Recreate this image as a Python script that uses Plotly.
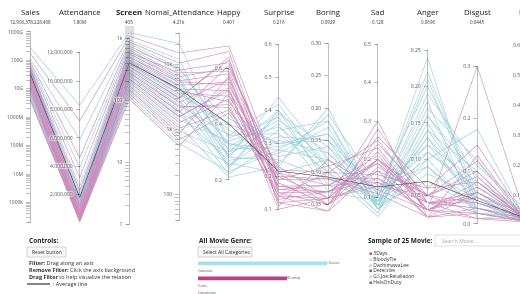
import numpy as np
import plotly.graph_objects as go

W, H = 540, 294

# ---------------- data ----------------
dim_names = ["Sales", "Attendance", "Screen", "Nomal_Attendance", "Happy", "Surprise",
             "Boring", "Sad", "Anger", "Disgust", "Fear"]
avg_text = ["12,906,378,228,408", "1.80M", "405", "4.21k", "0.401", "0.216",
            "0.0929", "0.128", "0.0696", "0.0445", "0.0213"]

genre = ["action", "comedy"] * 24
sales = [2.9e11, 1.8e11, 1.2e11, 9.5e10, 8.0e10, 7.0e10, 6.2e10, 5.5e10, 5.0e10, 4.6e10, 4.2e10, 3.9e10,
         3.6e10, 3.3e10, 3.1e10, 2.9e10, 2.7e10, 2.5e10, 2.3e10, 2.1e10, 1.9e10, 1.8e10, 1.6e10, 1.5e10,
         1.4e10, 1.3e10, 1.2e10, 1.1e10, 1.0e10, 9.0e9, 8.0e9, 7.0e9, 6.0e9, 5.0e9, 4.5e9, 4.0e9,
         6.5e10, 5.2e10, 4.4e10, 3.8e10, 3.4e10, 2.8e10, 2.4e10, 2.0e10, 1.7e10, 1.5e10, 1.3e10, 1.1e10]
attendance = [8.3e6, 7.2e6, 5.9e6, 4.6e6, 3.9e6, 3.2e6, 2.6e6, 2.3e6, 2.1e6, 1.9e6, 1.7e6, 1.5e6,
              1.4e6, 1.3e6, 1.2e6, 1.1e6, 1.0e6, 9.2e5, 8.5e5, 7.8e5, 7.1e5, 6.5e5, 5.8e5, 5.2e5,
              4.7e5, 4.2e5, 3.8e5, 3.4e5, 3.0e5, 2.7e5, 2.4e5, 2.1e5, 1.8e5, 1.5e5, 1.2e5, 1.0e5,
              1.6e6, 1.2e6, 9.0e5, 8.0e5, 6.2e5, 5.5e5, 4.5e5, 4.0e5, 3.3e5, 2.8e5, 2.2e5, 1.8e5]
screen = [1250, 1100, 950, 880, 820, 760, 700, 650, 620, 580, 540, 510, 480, 450, 420, 400, 380, 360,
          340, 320, 300, 285, 270, 255, 240, 225, 210, 198, 185, 172, 160, 150, 140, 128, 115, 105,
          700, 600, 560, 500, 460, 430, 390, 350, 310, 280, 250, 220]
nomal_att = [21000, 15000, 12000, 10500, 9000, 8200, 7000, 6500, 6000, 5600, 5200, 4800, 4500, 4200,
             3900, 3600, 3300, 3000, 2800, 2600, 2400, 2200, 2000, 1850, 1700, 1550, 1400, 1280, 1150,
             1050, 950, 860, 780, 700, 620, 560,
             8800, 7400, 6200, 5400, 4700, 4000, 3500, 3100, 2700, 2300, 1900, 1600]
happy = [0.30, 0.68, 0.28, 0.66, 0.35, 0.62, 0.42, 0.60, 0.25, 0.58, 0.33, 0.55, 0.24, 0.52, 0.38, 0.50,
         0.29, 0.64, 0.31, 0.56, 0.36, 0.47, 0.22, 0.61, 0.27, 0.53, 0.34, 0.49, 0.21, 0.45, 0.30, 0.57,
         0.26, 0.44, 0.23, 0.51,
         0.36, 0.59, 0.32, 0.54, 0.28, 0.48, 0.40, 0.63, 0.25, 0.46, 0.33, 0.52]
surprise = [0.40, 0.20, 0.44, 0.15, 0.38, 0.18, 0.30, 0.22, 0.34, 0.12, 0.26, 0.16, 0.40, 0.14, 0.24, 0.20,
            0.36, 0.11, 0.29, 0.18, 0.42, 0.13, 0.31, 0.21, 0.27, 0.10, 0.35, 0.15, 0.23, 0.19, 0.32, 0.12,
            0.21, 0.17, 0.28, 0.14,
            0.33, 0.17, 0.37, 0.19, 0.25, 0.23, 0.30, 0.16, 0.39, 0.14, 0.28, 0.21]
boring = [0.08, 0.06, 0.12, 0.07, 0.09, 0.05, 0.15, 0.10, 0.18, 0.06, 0.14, 0.08, 0.11, 0.04, 0.19, 0.09,
          0.07, 0.12, 0.16, 0.05, 0.10, 0.07, 0.13, 0.08, 0.17, 0.06, 0.11, 0.05, 0.20, 0.09, 0.15, 0.04,
          0.12, 0.07, 0.18, 0.06,
          0.10, 0.08, 0.13, 0.11, 0.09, 0.06, 0.16, 0.07, 0.14, 0.10, 0.12, 0.05]
sad = [0.10, 0.14, 0.08, 0.20, 0.12, 0.24, 0.07, 0.16, 0.09, 0.30, 0.11, 0.21, 0.06, 0.18, 0.13, 0.15,
       0.09, 0.12, 0.08, 0.26, 0.05, 0.19, 0.10, 0.14, 0.07, 0.22, 0.06, 0.17, 0.08, 0.11, 0.12, 0.28,
       0.09, 0.15, 0.07, 0.20,
       0.09, 0.19, 0.08, 0.23, 0.10, 0.13, 0.11, 0.17, 0.07, 0.25, 0.09, 0.20]
anger = [0.22, 0.03, 0.17, 0.04, 0.20, 0.05, 0.14, 0.06, 0.12, 0.02, 0.10, 0.03, 0.16, 0.05, 0.09, 0.04,
         0.19, 0.03, 0.13, 0.06, 0.11, 0.02, 0.24, 0.04, 0.08, 0.03, 0.15, 0.05, 0.07, 0.02, 0.12, 0.04,
         0.18, 0.03, 0.10, 0.05,
         0.13, 0.04, 0.16, 0.03, 0.21, 0.05, 0.11, 0.02, 0.14, 0.04, 0.09, 0.03]
disgust = [0.05, 0.30, 0.12, 0.03, 0.08, 0.02, 0.10, 0.15, 0.04, 0.06, 0.18, 0.01, 0.07, 0.09, 0.02, 0.04,
           0.11, 0.05, 0.03, 0.08, 0.06, 0.13, 0.02, 0.01, 0.05, 0.07, 0.04, 0.10, 0.03, 0.02, 0.08, 0.03,
           0.01, 0.06, 0.02, 0.04,
           0.06, 0.05, 0.09, 0.02, 0.04, 0.12, 0.07, 0.03, 0.05, 0.06, 0.03, 0.08]
fear = [0.02, 0.01, 0.03, 0.01, 0.04, 0.01, 0.02, 0.015, 0.03, 0.02, 0.01, 0.02, 0.04, 0.01, 0.03, 0.02,
        0.05, 0.01, 0.02, 0.015, 0.03, 0.01, 0.02, 0.01, 0.04, 0.02, 0.01, 0.015, 0.03, 0.01, 0.02, 0.02,
        0.04, 0.01, 0.03, 0.02,
        0.03, 0.01, 0.02, 0.015, 0.03, 0.01, 0.02, 0.01, 0.04, 0.02, 0.01, 0.02]

# average line
avg_values = [3.5e10, 1.80e6, 405, 4210, 0.401, 0.216, 0.0929, 0.128, 0.0696, 0.0445, 0.0213]

# axis ticks
sales_ticks = [1e6, 1e7, 1e8, 1e9, 1e10, 1e11, 1e12]
sales_ticktext = ["1000k", "10M", "100M", "1000M", "10G", "100G", "1000G"]
att_ticks = [2e6, 4e6, 6e6, 8e6, 10e6, 12e6]
att_ticktext = ["2,000,000", "4,000,000", "6,000,000", "8,000,000", "10,000,000", "12,000,000"]
screen_ticks = [1, 10, 100, 1000]
screen_ticktext = ["1", "10", "100", "1k"]
nomal_ticks = [100, 1000, 10000]
nomal_ticktext = ["100", "1k", "10k"]
happy_ticks = [0.2, 0.4, 0.6]
surprise_ticks = [0.1, 0.2, 0.3, 0.4, 0.5, 0.6]
boring_ticks = [0.05, 0.10, 0.15, 0.20, 0.25, 0.30]
sad_ticks = [0.1, 0.2, 0.3, 0.4, 0.5]
anger_ticks = [0.05, 0.10, 0.15, 0.20, 0.25]
disgust_ticks = [0.0, 0.1, 0.2, 0.3]
fear_ticks = [0.1, 0.2, 0.3, 0.4, 0.5, 0.6]

genre_names = ["action", "adventure", "comedy", "crime", "documentary"]
genre_counts = [116, 0, 80, 0, 0]

sample_movies = ["3Days", "BloodyTie", "DachimawaLee", "Detective", "G.I.Joe:Retaliation", "HeIsOnDuty"]
sample_genres = ["comedy", "action", "action", "comedy", "action", "comedy"]

# ---------------- styling ----------------
CYAN = "rgb(148,213,228)"
PINK = "rgb(210,134,186)"
AVG = "rgb(50,50,66)"
BAR_CYAN = "rgb(166,224,232)"
BAR_PINK = "rgb(192,62,132)"
FONT = "Open Sans"


def px_x(x):
    return x / W


def px_y(y):
    return 1 - y / H


def log_ticks(major, labels, lo, hi):
    """major (log10) ticks with labels plus unlabeled minor ticks, sorted together.
    Minor labels are distinct invisible strings (parcoords maps ticks by their text)."""
    pairs = [(float(np.log10(v)), t) for v, t in zip(major, labels)]
    k = 1
    for d in range(int(np.floor(lo)), int(np.ceil(hi)) + 1):
        for m in range(2, 10):
            v = float(np.log10(m) + d)
            if lo <= v <= hi:
                pairs.append((v, "\u200b" * k))
                k += 1
    pairs.sort()
    return [p[0] for p in pairs], [p[1] for p in pairs]


code = {"action": 0, "comedy": 1}
line_color = [code[g] for g in genre] + [2]


def col(vals, i):
    return list(vals) + [avg_values[i]]


s_rng = [5.17, 12.07]
sc_rng = [-0.03, 3.14]
na_rng = [1.52, 4.53]
s_tv, s_tt = log_ticks(sales_ticks, sales_ticktext, *s_rng)
sc_tv, sc_tt = log_ticks(screen_ticks, screen_ticktext, *sc_rng)
na_tv, na_tt = log_ticks(nomal_ticks, nomal_ticktext, *na_rng)

dims = [
    dict(label="", values=np.log10(col(sales, 0)), range=s_rng, tickvals=s_tv, ticktext=s_tt),
    dict(label="", values=col(attendance, 1), range=[-0.2e6, 13.6e6],
         tickvals=att_ticks, ticktext=att_ticktext),
    dict(label="", values=np.log10(col(screen, 2)), range=sc_rng, tickvals=sc_tv, ticktext=sc_tt),
    dict(label="", values=np.log10(col(nomal_att, 3)), range=na_rng, tickvals=na_tv, ticktext=na_tt),
    dict(label="", values=col(happy, 4), range=[0.035, 0.737],
         tickvals=happy_ticks, ticktext=[f"{v:.1f}" for v in happy_ticks]),
    dict(label="", values=col(surprise, 5), range=[0.049, 0.645],
         tickvals=surprise_ticks, ticktext=[f"{v:.1f}" for v in surprise_ticks]),
    dict(label="", values=col(boring, 6), range=[0.017, 0.321],
         tickvals=boring_ticks, ticktext=[f"{v:.2f}" for v in boring_ticks]),
    dict(label="", values=col(sad, 7), range=[0.026, 0.538],
         tickvals=sad_ticks, ticktext=[f"{v:.1f}" for v in sad_ticks]),
    dict(label="", values=col(anger, 8), range=[0.008, 0.278],
         tickvals=anger_ticks, ticktext=[f"{v:.2f}" for v in anger_ticks]),
    dict(label="", values=col(disgust, 9), range=[-0.004, 0.369],
         tickvals=disgust_ticks, ticktext=[f"{v:.1f}" for v in disgust_ticks]),
    dict(label="", values=col(fear, 10), range=[-0.003, 0.65],
         tickvals=fear_ticks, ticktext=[f"{v:.1f}" for v in fear_ticks]),
]

AX0, AX1 = 30, 527
fig = go.Figure()
fig.add_trace(go.Parcoords(
    domain=dict(x=[px_x(AX0), px_x(AX1)], y=[px_y(228), px_y(28)]),
    dimensions=dims,
    line=dict(color=line_color, cmin=0, cmax=2,
              colorscale=[[0, CYAN], [0.33, CYAN], [0.34, PINK], [0.66, PINK], [0.67, AVG], [1, AVG]]),
    tickfont=dict(size=5, family=FONT, color="#555"),
    rangefont=dict(size=1, color="rgba(0,0,0,0)"),
    labelfont=dict(size=1, color="rgba(0,0,0,0)"),
))

# genre bars
fig.add_trace(go.Bar(
    x=genre_counts, y=genre_names, orientation="h",
    marker=dict(color=[BAR_CYAN, BAR_CYAN, BAR_PINK, BAR_PINK, BAR_PINK], line=dict(width=0)),
    width=0.5,
    texttemplate="%{x} %{y}", textposition="outside", cliponaxis=False,
    textfont=dict(size=5.5, family=FONT, color="#444"),
    xaxis="x", yaxis="y", hoverinfo="skip", showlegend=False,
))

annotations = []
n = len(dim_names)
for i, (nm, av) in enumerate(zip(dim_names, avg_text)):
    ax = AX0 + i * (AX1 - AX0) / (n - 1)
    annotations.append(dict(xref="paper", yref="paper", x=px_x(ax), y=px_y(12),
                            text=(f"<b>{nm}</b>" if nm == "Screen" else nm),
                            showarrow=False, font=dict(size=7.8, family=FONT, color="#222"),
                            xanchor="center", yanchor="middle"))
    annotations.append(dict(xref="paper", yref="paper", x=px_x(ax), y=px_y(21.5), text=av,
                            showarrow=False, font=dict(size=4.5, family=FONT, color="#333"),
                            xanchor="center", yanchor="middle"))


def txt(x, y, t, size=5.5, color="#333", anchor="left"):
    annotations.append(dict(xref="paper", yref="paper", x=px_x(x), y=px_y(y), text=t,
                            showarrow=False, xanchor=anchor, yanchor="middle",
                            font=dict(size=size, family=FONT, color=color)))


txt(27, 240, "<b>Controls:</b>", size=6.5, color="#222")
txt(30, 252, "Reset button", size=5)
txt(27, 263, "<b>Filter:</b> Drag along an axis")
txt(27, 270, "<b>Remove Filter:</b> Click the axis background")
txt(27, 277, "<b>Drag Filter</b> to help visualize the relation")
txt(51, 284, ": Average line")

txt(197, 240, "<b>All Movie Genre:</b>", size=6.5, color="#222")
txt(201, 252, "Select All Categories", size=5)

txt(366, 240, "<b>Sample of 25 Movie:</b>", size=6.5, color="#222")
txt(440, 240.5, "Search Movie...", size=5, color="#aaa")
gcol = {"action": BAR_CYAN, "comedy": BAR_PINK}
for k, (mv, g) in enumerate(zip(sample_movies, sample_genres)):
    yy = 253 + k * 5.8
    txt(367, yy, f"<span style='color:{gcol[g]}'>■</span> {mv}", size=5)

shapes = [
    # brushed-filter band on the Screen axis
    dict(type="rect", xref="paper", yref="paper", x0=px_x(125), x1=px_x(134), y0=px_y(100), y1=px_y(26),
         line=dict(width=0), fillcolor="rgba(140,140,140,0.28)", layer="above"),
    dict(type="rect", xref="paper", yref="paper", x0=px_x(27), x1=px_x(66), y0=px_y(257), y1=px_y(247),
         line=dict(color="#bbb", width=0.6), fillcolor="#f7f7f7", layer="below"),
    dict(type="rect", xref="paper", yref="paper", x0=px_x(198), x1=px_x(252), y0=px_y(257), y1=px_y(247),
         line=dict(color="#bbb", width=0.6), fillcolor="#f7f7f7", layer="below"),
    dict(type="rect", xref="paper", yref="paper", x0=px_x(435), x1=px_x(530), y0=px_y(246), y1=px_y(235),
         line=dict(color="#ccc", width=0.6), fillcolor="white", layer="below"),
    dict(type="line", xref="paper", yref="paper", x0=px_x(27), x1=px_x(50), y0=px_y(284), y1=px_y(284),
         line=dict(color=AVG, width=1.2)),
]

fig.update_layout(
    width=W, height=H, margin=dict(l=0, r=0, t=0, b=0),
    paper_bgcolor="white", plot_bgcolor="white",
    font=dict(family=FONT),
    annotations=annotations, shapes=shapes, showlegend=False,
    xaxis=dict(domain=[px_x(198), px_x(358)], range=[0, 160 / 1.112], visible=False, fixedrange=True),
    yaxis=dict(domain=[0, px_y(259.75)], range=[4.07, -0.5], visible=False, fixedrange=True,
               type="category"),
)

fig.write_html("out.html", config={"displayModeBar": False},
               post_script="document.body.style.margin='0px';")
